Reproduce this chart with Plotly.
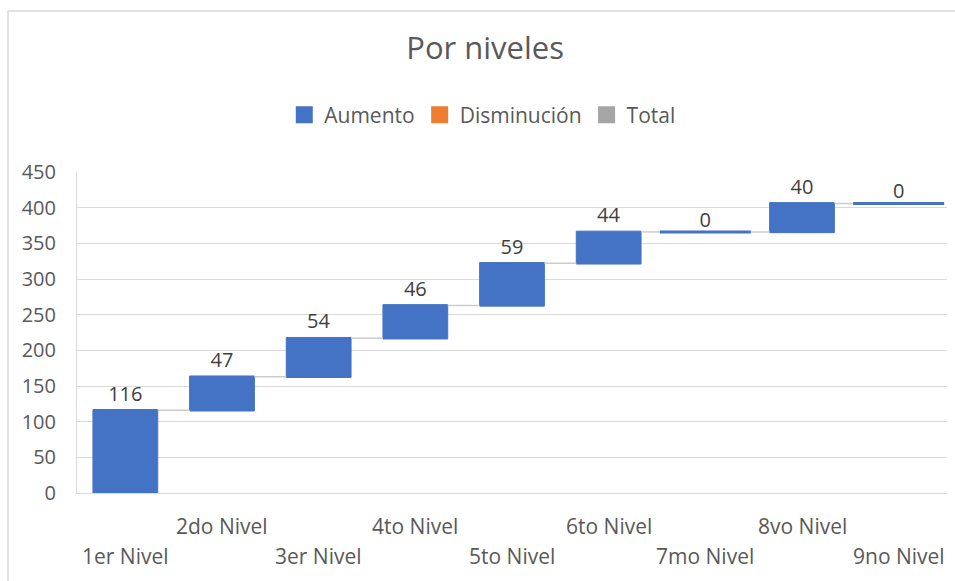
import plotly.graph_objects as go

categories = ["1er Nivel", "2do Nivel", "3er Nivel", "4to Nivel", "5to Nivel",
              "6to Nivel", "7mo Nivel", "8vo Nivel", "9no Nivel"]
values = [116, 47, 54, 46, 59, 44, 0, 40, 0]
y_ticks = [0, 50, 100, 150, 200, 250, 300, 350, 400, 450]
legend_names = ["Aumento", "Disminución", "Total"]

BLUE = "#4472C4"
ORANGE = "#ED7D31"
GRAY = "#A5A5A5"
TXT = "#595959"
FONT = "Open Sans"

# cumulative levels
cum = []
s = 0
for v in values:
    s += v
    cum.append(s)

fig = go.Figure()

fig.add_trace(go.Waterfall(
    x=categories,
    y=values,
    measure=["relative"] * len(values),
    text=[str(v) if v != 0 else "" for v in values],
    textposition="outside",
    textfont=dict(family=FONT, size=20, color="#404040"),
    increasing=dict(marker=dict(color=BLUE, line=dict(color=BLUE, width=1))),
    decreasing=dict(marker=dict(color=ORANGE)),
    totals=dict(marker=dict(color=GRAY)),
    connector=dict(line=dict(color="#cccccc", width=1.5)),
    showlegend=False,
    hoverinfo="skip",
    cliponaxis=False,
))

# zero-value steps drawn as flat lines
zx = [c for c, v in zip(categories, values) if v == 0]
zy = [l for l, v in zip(cum, values) if v == 0]
zt = [str(v) for v in values if v == 0]
fig.add_trace(go.Scatter(
    x=zx, y=zy, mode="markers",
    marker=dict(symbol="line-ew", size=65, line=dict(color=BLUE, width=3)),
    showlegend=False, hoverinfo="skip", cliponaxis=False,
))
fig.add_trace(go.Scatter(
    x=zx, y=zy, mode="text",
    text=zt,
    textposition="top center",
    textfont=dict(family=FONT, size=20, color="#404040"),
    showlegend=False, hoverinfo="skip", cliponaxis=False,
))

# legend entries
for name, col in zip(legend_names, [BLUE, ORANGE, GRAY]):
    fig.add_trace(go.Bar(x=[categories[0]], y=[None], name=name,
                         marker=dict(color=col, line=dict(color=col, width=6)),
                         showlegend=True))

# staggered category labels
ann = []
for i, c in enumerate(categories):
    upper = (i % 2 == 1)
    ann.append(dict(
        x=c, xref="x", y=-0.1028 if upper else -0.196, yref="paper",
        text=c, showarrow=False, xanchor="center", yanchor="middle",
        font=dict(family=FONT, size=21, color=TXT),
    ))

fig.update_layout(
    width=955, height=581,
    margin=dict(l=77, r=8, t=172, b=88),
    paper_bgcolor="white", plot_bgcolor="white",
    barmode="overlay",
    waterfallgap=0.33,
    title=dict(text="Por niveles", x=0.508, xanchor="center",
               y=1 - 48 / 581, yanchor="middle", yref="container",
               font=dict(family=FONT, size=31, color=TXT)),
    legend=dict(orientation="h", xref="container", x=0.505, xanchor="center",
                yref="container", y=1 - 115 / 581, yanchor="middle",
                font=dict(family=FONT, size=21, color=TXT),
                itemwidth=30, tracegroupgap=0),
    annotations=ann,
    xaxis=dict(type="category", categoryorder="array", categoryarray=categories,
               range=[-0.5, len(categories) - 0.5],
               showticklabels=False, showgrid=False,
               showline=True, linecolor="#d9d9d9", linewidth=1,
               zeroline=False, ticks=""),
    yaxis=dict(range=[0, 450], tickvals=y_ticks,
               showgrid=True, gridcolor="#d9d9d9", gridwidth=1,
               showline=True, linecolor="#d9d9d9", linewidth=1,
               zeroline=False, ticks="", ticklabelstandoff=16,
               tickfont=dict(family=FONT, size=20, color=TXT)),
    shapes=[
        dict(type="line", xref="paper", yref="paper",
             x0=(8 - 77) / 870, x1=(8 - 77) / 870,
             y0=(493 - 11) / 321, y1=(493 - 600) / 321,
             line=dict(color="#d9d9d9", width=1.5)),
        dict(type="line", xref="paper", yref="paper",
             x0=(8 - 77) / 870, x1=(970 - 77) / 870,
             y0=(493 - 11) / 321, y1=(493 - 11) / 321,
             line=dict(color="#d9d9d9", width=1.5)),
    ],
    hovermode=False,
)

fig.write_html("out.html", config={"displayModeBar": False},
               post_script="document.body.style.margin='0';")
